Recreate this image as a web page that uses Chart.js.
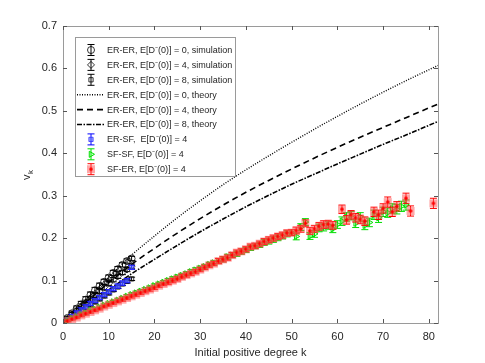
<!DOCTYPE html>
<html>
<head>
  <meta charset="UTF-8" />
  <title>v_k vs initial positive degree</title>
  <script src="https://cdn.jsdelivr.net/npm/chart.js@4"></script>
  <style>
    body { margin: 0; background: #fff; }
    canvas { display: block; }
  </style>
</head>
<body>
  <canvas id="chart" width="485" height="363"></canvas>
  <script>
    // ---- data ----
    const kSim = [1, 2, 3, 4, 5, 6, 7, 8, 9, 10, 11, 12, 13, 14, 15];
    const erEr0 = [0.012, 0.023, 0.034, 0.044, 0.055, 0.066, 0.077, 0.087, 0.097, 0.107, 0.118, 0.127, 0.137, 0.146, 0.152];
    const erEr0Err = [0.004, 0.005, 0.006, 0.007, 0.007, 0.007, 0.007, 0.007, 0.006, 0.006, 0.006, 0.006, 0.005, 0.005, 0.005];
    const erEr4 = [0.010, 0.020, 0.029, 0.039, 0.048, 0.057, 0.066, 0.075, 0.084, 0.093, 0.102, 0.110, 0.119, 0.126, 0.134];
    const erEr4Err = [0.004, 0.005, 0.006, 0.006, 0.006, 0.006, 0.006, 0.006, 0.006, 0.005, 0.005, 0.005, 0.005, 0.005, 0.005];
    const erEr8 = [0.008, 0.015, 0.022, 0.029, 0.036, 0.043, 0.050, 0.057, 0.064, 0.071, 0.078, 0.085, 0.092, 0.098, 0.104];
    const erEr8Err = [0.004, 0.004, 0.005, 0.005, 0.005, 0.005, 0.005, 0.005, 0.005, 0.005, 0.004, 0.004, 0.004, 0.004, 0.004];
    const erSf = [0.008, 0.016, 0.024, 0.031, 0.038, 0.046, 0.053, 0.060, 0.067, 0.074, 0.081, 0.087, 0.094, 0.100, 0.131];
    const erSfErr = [0.003, 0.004, 0.004, 0.005, 0.005, 0.005, 0.005, 0.005, 0.005, 0.005, 0.005, 0.005, 0.005, 0.005, 0.005];

    const kTheory = [0, 1, 2, 5, 10, 15, 20, 25, 30, 35, 40, 45, 50, 55, 60, 65, 70, 75, 82];
    const theory0 = [0, 0.011, 0.022, 0.055, 0.108, 0.160, 0.205, 0.248, 0.288, 0.326, 0.361, 0.394, 0.426, 0.457, 0.487, 0.516, 0.544, 0.571, 0.607];
    const theory4 = [0, 0.010, 0.020, 0.049, 0.095, 0.138, 0.176, 0.212, 0.246, 0.278, 0.308, 0.336, 0.363, 0.389, 0.414, 0.438, 0.461, 0.484, 0.516];
    const theory8 = [0, 0.008, 0.016, 0.040, 0.078, 0.116, 0.150, 0.183, 0.215, 0.245, 0.274, 0.301, 0.327, 0.351, 0.375, 0.398, 0.421, 0.443, 0.475];

    const kSfSf = [1, 2, 3, 4, 5, 6, 7, 8, 9, 10, 11, 12, 13, 14, 15, 16, 17, 18, 19, 20, 21, 22, 23, 24, 25, 26, 27, 28, 29, 30,
      31, 32, 33, 34, 35, 36, 37, 38, 39, 40, 41, 42, 43, 44, 45, 46, 47, 48, 49, 50, 51, 52, 53, 54, 55, 56, 57, 58, 59, 60,
      61, 62, 63, 64, 65, 66, 67, 68, 69, 70, 71, 72, 73, 74, 75];
    const sfSf = [0.006, 0.011, 0.015, 0.020, 0.024, 0.029, 0.033, 0.037, 0.042, 0.046, 0.050, 0.054, 0.058, 0.063, 0.067,
      0.071, 0.075, 0.079, 0.083, 0.088, 0.092, 0.096, 0.100, 0.104, 0.108, 0.112, 0.116, 0.121, 0.125, 0.129,
      0.133, 0.138, 0.142, 0.146, 0.150, 0.156, 0.160, 0.163, 0.168, 0.172, 0.177, 0.181, 0.184, 0.190, 0.193,
      0.197, 0.201, 0.205, 0.210, 0.213, 0.204, 0.226, 0.238, 0.205, 0.210, 0.224, 0.226, 0.230, 0.222, 0.232,
      0.240, 0.250, 0.253, 0.235, 0.250, 0.230, 0.237, 0.255, 0.248, 0.262, 0.260, 0.270, 0.268, 0.275, 0.278];
    const sfSfErr = [0.002, 0.002, 0.002, 0.003, 0.003, 0.003, 0.003, 0.003, 0.003, 0.003, 0.003, 0.003, 0.004, 0.004, 0.004,
      0.004, 0.004, 0.004, 0.004, 0.004, 0.004, 0.004, 0.005, 0.005, 0.005, 0.005, 0.005, 0.005, 0.005, 0.005,
      0.005, 0.005, 0.005, 0.006, 0.006, 0.006, 0.006, 0.006, 0.006, 0.006, 0.006, 0.006, 0.006, 0.007, 0.007,
      0.007, 0.007, 0.007, 0.007, 0.007, 0.008, 0.008, 0.008, 0.008, 0.008, 0.009, 0.009, 0.009, 0.009, 0.009,
      0.010, 0.010, 0.010, 0.010, 0.010, 0.010, 0.010, 0.011, 0.011, 0.011, 0.011, 0.011, 0.011, 0.012, 0.012];

    const kSfEr = [1, 2, 3, 4, 5, 6, 7, 8, 9, 10, 11, 12, 13, 14, 15, 16, 17, 18, 19, 20, 21, 22, 23, 24, 25, 26, 27, 28, 29, 30,
      31, 32, 33, 34, 35, 36, 37, 38, 39, 40, 41, 42, 43, 44, 45, 46, 47, 48, 49, 50, 51, 52, 53, 54, 55,
      56, 57, 58, 59, 61, 62, 63, 64, 65, 66, 68, 69, 70, 71, 72, 73, 75, 76, 81];
    const sfEr = [0.005, 0.009, 0.013, 0.018, 0.022, 0.026, 0.030, 0.034, 0.039, 0.043, 0.047, 0.051, 0.055, 0.059, 0.063,
      0.067, 0.071, 0.075, 0.079, 0.083, 0.088, 0.092, 0.096, 0.100, 0.104, 0.109, 0.113, 0.117, 0.121, 0.126,
      0.131, 0.136, 0.140, 0.146, 0.150, 0.154, 0.160, 0.166, 0.169, 0.174, 0.180, 0.182, 0.187, 0.192, 0.196,
      0.200, 0.204, 0.207, 0.212, 0.213, 0.218, 0.222, 0.235, 0.217, 0.222,
      0.228, 0.232, 0.233, 0.230, 0.268, 0.243, 0.255, 0.248, 0.244, 0.240, 0.262, 0.255, 0.270, 0.285, 0.262,
      0.275, 0.294, 0.264, 0.282];
    const sfErErr = [0.002, 0.002, 0.002, 0.003, 0.003, 0.003, 0.003, 0.003, 0.003, 0.003, 0.003, 0.003, 0.004, 0.004, 0.004,
      0.004, 0.004, 0.004, 0.004, 0.004, 0.004, 0.004, 0.005, 0.005, 0.005, 0.005, 0.005, 0.005, 0.005, 0.005,
      0.005, 0.005, 0.005, 0.006, 0.006, 0.006, 0.006, 0.006, 0.006, 0.006, 0.006, 0.006, 0.006, 0.007, 0.007,
      0.007, 0.007, 0.007, 0.007, 0.007, 0.008, 0.008, 0.008, 0.008, 0.008,
      0.009, 0.009, 0.009, 0.009, 0.010, 0.010, 0.010, 0.010, 0.010, 0.010, 0.011, 0.011, 0.011, 0.012, 0.011,
      0.011, 0.012, 0.012, 0.012];

    const xTicks = [0, 10, 20, 30, 40, 50, 60, 70, 80];
    const yTicks = [0, 0.1, 0.2, 0.3, 0.4, 0.5, 0.6, 0.7];

    const pts = (xs, ys) => xs.map((x, i) => ({ x: x, y: ys[i] }));
    const textColor = '#262626';
    const font = '"Liberation Sans", Arial, sans-serif';

    // red marker: pink square halo with red centre
    const redMark = document.createElement('canvas');
    redMark.width = 10; redMark.height = 10;
    (function () {
      const c = redMark.getContext('2d');
      c.fillStyle = 'rgba(255,80,80,0.5)';
      c.fillRect(1, 1, 8, 8);
      c.fillStyle = '#ff0000';
      c.beginPath(); c.arc(5, 5, 1.8, 0, Math.PI * 2); c.fill();
    })();

    const datasets = [
      { label: "ER-ER, E[D\u207B(0)] = 0, simulation", data: pts(kSim, erEr0), err: erEr0Err, errColor: '#000',
        pointStyle: 'circle', pointRadius: 3.5, borderColor: '#000', backgroundColor: 'rgba(0,0,0,0)', borderWidth: 0.8, showLine: false, order: 3 },
      { label: "ER-ER, E[D\u207B(0)] = 4, simulation", data: pts(kSim, erEr4), err: erEr4Err, errColor: '#000',
        pointStyle: 'rectRot', pointRadius: 3.5, borderColor: '#000', backgroundColor: 'rgba(0,0,0,0)', borderWidth: 0.8, showLine: false, order: 3 },
      { label: "ER-ER, E[D\u207B(0)] = 8, simulation", data: pts(kSim, erEr8), err: erEr8Err, errColor: '#000',
        pointStyle: 'rect', pointRadius: 3, borderColor: '#000', backgroundColor: 'rgba(0,0,0,0)', borderWidth: 0.8, showLine: false, order: 3 },
      { label: "ER-ER, E[D\u207B(0)] = 0, theory", data: pts(kTheory, theory0), type: 'line', borderColor: '#000',
        borderWidth: 1.4, borderDash: [1, 1.5], pointRadius: 0, cubicInterpolationMode: 'monotone', order: 4 },
      { label: "ER-ER, E[D\u207B(0)] = 4, theory", data: pts(kTheory, theory4), type: 'line', borderColor: '#000',
        borderWidth: 1.6, borderDash: [6, 4], pointRadius: 0, cubicInterpolationMode: 'monotone', order: 4 },
      { label: "ER-ER, E[D\u207B(0)] = 8, theory", data: pts(kTheory, theory8), type: 'line', borderColor: '#000',
        borderWidth: 1.6, borderDash: [5, 1.5, 1.5, 1.5], pointRadius: 0, cubicInterpolationMode: 'monotone', order: 4 },
      { label: "ER-SF,  E[D\u207B(0)] = 4", data: pts(kSim, erSf), err: erSfErr, errColor: '#0000ff',
        pointStyle: 'rect', pointRadius: 3, borderColor: '#3030ff', backgroundColor: 'rgba(90,110,255,0.55)', borderWidth: 0.8, showLine: false, order: 2 },
      { label: "SF-SF, E[D\u207B(0)] = 4", data: pts(kSfSf, sfSf), err: sfSfErr, errColor: '#00dd00',
        pointStyle: 'triangle', rotation: 90, pointRadius: 3.5, borderColor: '#00e000', backgroundColor: 'rgba(0,255,0,0.15)', borderWidth: 1, showLine: false, order: 1 },
      { label: "SF-ER, E[D\u207B(0)] = 4", data: pts(kSfEr, sfEr), err: sfErErr, errColor: '#ff0000',
        pointStyle: redMark, pointRadius: 4, borderColor: '#ff0000', backgroundColor: '#ff0000', borderWidth: 1, showLine: false, order: 0 }
    ];

    const frame = {
      id: 'frame',
      beforeDatasetDraw(chart, args) {
        const ds = chart.data.datasets[args.index];
        if (!ds.err) return;
        const { ctx, scales: { y } } = chart;
        ctx.save();
        ctx.strokeStyle = ds.errColor;
        ctx.lineWidth = 1;
        args.meta.data.forEach((p, i) => {
          const v = ds.data[i].y, e = ds.err[i];
          const t = y.getPixelForValue(v + e), b = y.getPixelForValue(v - e);
          ctx.beginPath();
          ctx.moveTo(p.x, t); ctx.lineTo(p.x, b);
          ctx.moveTo(p.x - 3.5, t); ctx.lineTo(p.x + 3.5, t);
          ctx.moveTo(p.x - 3.5, b); ctx.lineTo(p.x + 3.5, b);
          ctx.stroke();
        });
        ctx.restore();
      },
      afterDraw(chart) {
        const { ctx, chartArea: a, scales: { x, y } } = chart;
        ctx.save();
        // box + inward ticks
        ctx.strokeStyle = '#9a9a9a';
        ctx.lineWidth = 1;
        ctx.strokeRect(Math.round(a.left) + 0.5, Math.round(a.top) + 0.5, Math.round(a.width), Math.round(a.height));
        ctx.strokeStyle = '#555';
        ctx.beginPath();
        xTicks.forEach(v => {
          const px = Math.round(x.getPixelForValue(v)) + 0.5;
          ctx.moveTo(px, a.bottom); ctx.lineTo(px, a.bottom - 4);
          ctx.moveTo(px, a.top); ctx.lineTo(px, a.top + 4);
        });
        yTicks.forEach(v => {
          const py = Math.round(y.getPixelForValue(v)) + 0.5;
          ctx.moveTo(a.left, py); ctx.lineTo(a.left + 4, py);
          ctx.moveTo(a.right, py); ctx.lineTo(a.right - 4, py);
        });
        ctx.stroke();

        // axis titles
        ctx.fillStyle = textColor;
        ctx.font = '11px ' + font;
        ctx.textAlign = 'center';
        ctx.textBaseline = 'middle';
        ctx.fillText('Initial positive degree k', (a.left + a.right) / 2, 353);
        ctx.save();
        ctx.translate(27, 175);
        ctx.rotate(-Math.PI / 2);
        ctx.textAlign = 'left';
        ctx.font = '11px ' + font;
        ctx.fillText('v', -5, 0);
        ctx.font = '8px ' + font;
        ctx.fillText('k', 1, 4);
        ctx.restore();

        // legend box
        const lx = 75, ly = 37, lw = 160, lh = 139;
        ctx.fillStyle = '#fff';
        ctx.fillRect(lx, ly, lw, lh);
        ctx.strokeStyle = '#9a9a9a';
        ctx.strokeRect(lx + 0.5, ly + 0.5, lw, lh);
        chart.data.datasets.forEach((ds, i) => {
          const ry = 50 + i * 14.9;
          if (ds.type === 'line') {
            ctx.strokeStyle = ds.borderColor;
            ctx.lineWidth = ds.borderWidth;
            ctx.setLineDash(ds.borderDash);
            ctx.beginPath(); ctx.moveTo(77, ry); ctx.lineTo(104, ry); ctx.stroke();
            ctx.setLineDash([]);
          } else {
            ctx.strokeStyle = ds.errColor;
            ctx.lineWidth = 1;
            ctx.beginPath();
            ctx.moveTo(91, ry - 5.5); ctx.lineTo(91, ry + 5.5);
            ctx.moveTo(87.5, ry - 5.5); ctx.lineTo(94.5, ry - 5.5);
            ctx.moveTo(87.5, ry + 5.5); ctx.lineTo(94.5, ry + 5.5);
            ctx.stroke();
            ctx.strokeStyle = ds.borderColor;
            ctx.fillStyle = ds.backgroundColor;
            ctx.lineWidth = ds.borderWidth;
            Chart.helpers.drawPoint(ctx, { pointStyle: ds.pointStyle, radius: ds.pointRadius, rotation: ds.rotation || 0, borderWidth: ds.borderWidth }, 91, ry);
          }
          ctx.fillStyle = textColor;
          ctx.font = '9px ' + font;
          ctx.textAlign = 'left';
          ctx.textBaseline = 'middle';
          ctx.fillText(ds.label, 107, ry + 0.5);
        });
        ctx.restore();
      }
    };

    new Chart(document.getElementById('chart'), {
      type: 'scatter',
      data: { datasets: datasets },
      options: {
        responsive: false,
        animation: false,
        layout: { padding: { top: 26, right: 47, left: 0, bottom: 0 } },
        plugins: { legend: { display: false }, tooltip: { enabled: false } },
        scales: {
          x: {
            type: 'linear', min: 0, max: 82,
            afterFit: s => { s.height = 40; },
            afterBuildTicks: s => { s.ticks = xTicks.map(v => ({ value: v })); },
            grid: { display: true, drawOnChartArea: false, drawTicks: false },
            border: { display: false },
            ticks: { padding: 7, color: textColor, font: { size: 11, family: font }, maxRotation: 0 }
          },
          y: {
            type: 'linear', min: 0, max: 0.7,
            afterFit: s => { s.width = 63; },
            afterBuildTicks: s => { s.ticks = yTicks.map(v => ({ value: v })); },
            grid: { display: true, drawOnChartArea: false, drawTicks: false },
            border: { display: false },
            ticks: { padding: 6, color: textColor, font: { size: 11, family: font } }
          }
        }
      },
      plugins: [frame]
    });
  </script>
</body>
</html>
